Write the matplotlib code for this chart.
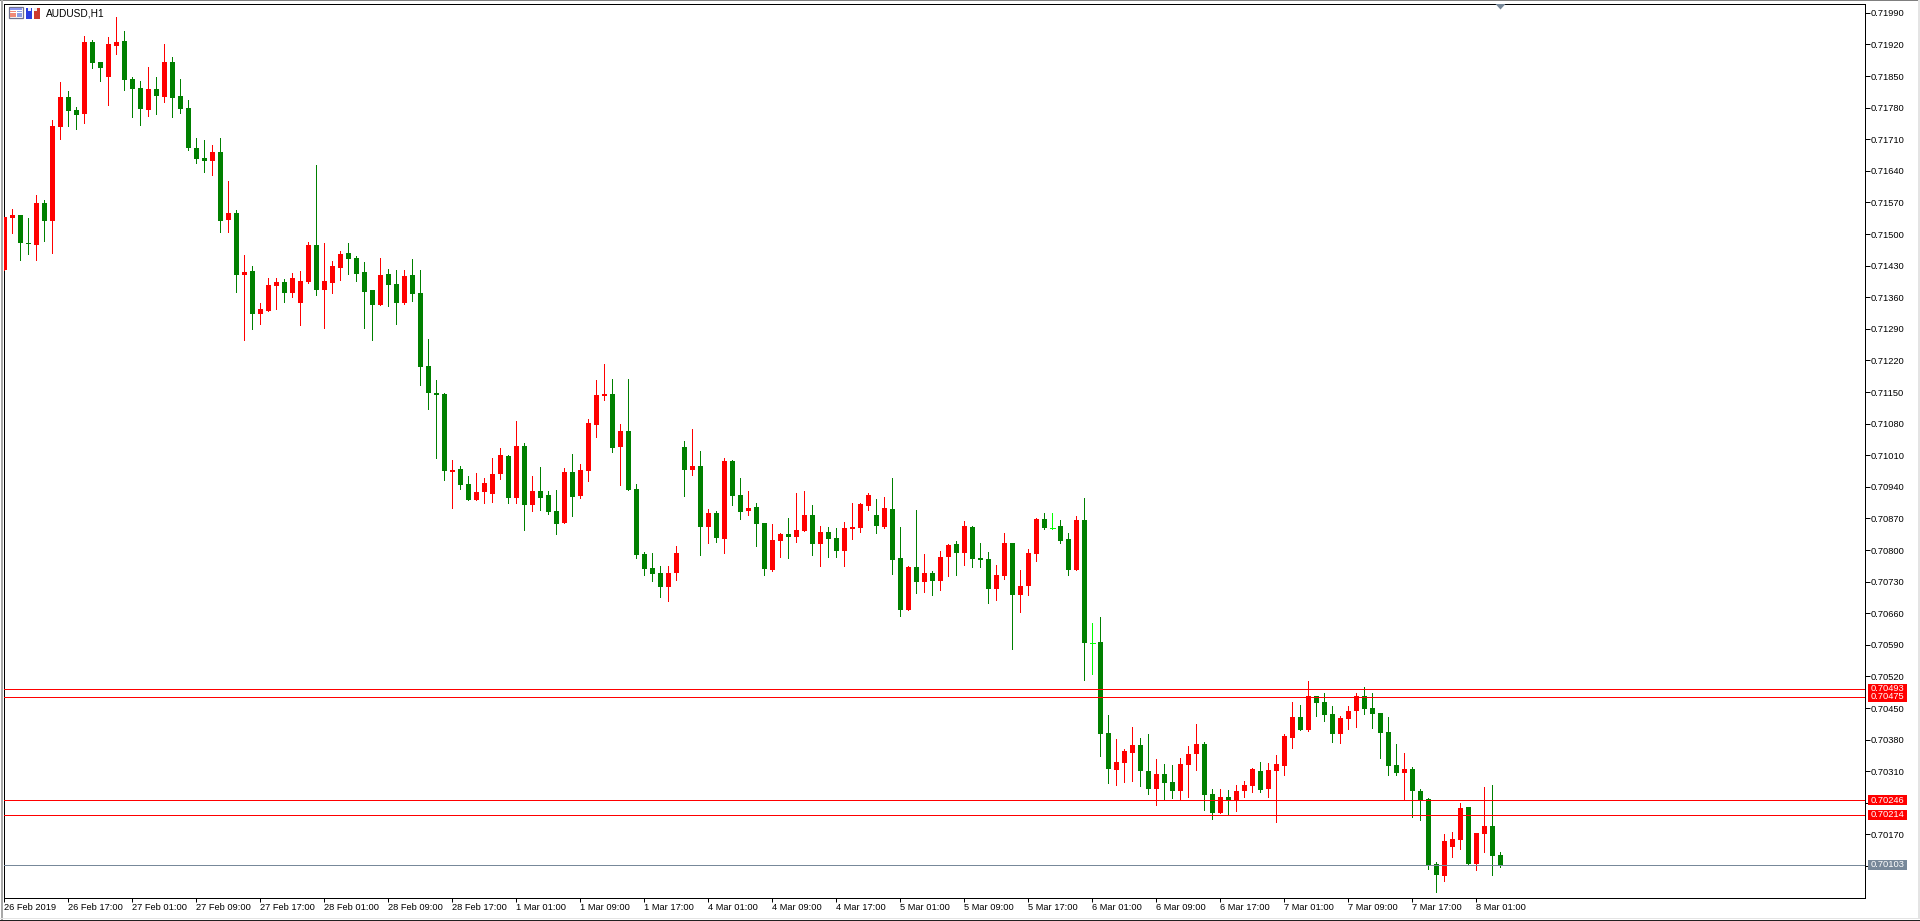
import matplotlib
matplotlib.use("Agg")
import matplotlib.pyplot as plt
from matplotlib.patches import Rectangle, Polygon
from matplotlib.transforms import blended_transform_factory

# AUDUSD H1 candles, prices in points (1e-5)
opens = [
    71421,71535,71542,71480,71475,71568,71528,71737,71803,71774,
    71765,71925,71881,71847,71916,71927,71843,71823,71774,71821,
    71803,71881,71805,71779,71690,71668,71661,71681,71531,71546,
    71409,71418,71322,71329,71384,71393,71369,71347,71393,71475,
    71376,71391,71424,71458,71446,71415,71376,71342,71411,71389,
    71347,71409,71369,71207,71148,71145,70973,70979,70946,70911,
    70928,70924,70968,71008,70915,71030,70899,70930,70922,70886,
    70860,70973,70919,70975,71077,71141,71145,71028,71063,70935,
    70791,70760,70749,70718,70749,71028,70977,70986,70851,70882,
    70824,70997,70922,70886,70895,70860,70755,70820,70835,70829,
    70842,70877,70813,70840,70826,70798,70846,70849,70897,70877,
    70851,70891,70782,70667,70762,70729,70749,70731,70784,70813,
    70793,70851,70782,70780,70713,70742,70815,70700,70720,70791,
    70868,70849,70853,70824,70755,70866,70595,70596,70394,70312,
    70328,70350,70368,70310,70270,70304,70286,70266,70324,70348,
    70370,70259,70217,70253,70246,70266,70277,70310,70270,70310,
    70321,70383,70430,70401,70476,70463,70436,70392,70426,70443,
    70476,70450,70439,70397,70324,70306,70315,70266,70248,70104,
    70078,70142,70157,70231,70104,70171,70188,70124,
]
closes = [
    71537,71542,71480,71477,71568,71528,71739,71803,71772,71763,
    71925,71878,71867,71920,71925,71841,71821,71776,71821,71805,
    71881,71801,71776,71690,71666,71661,71681,71528,71546,71409,
    71415,71322,71333,71387,71393,71369,71402,71395,71475,71376,
    71395,71429,71455,71444,71411,71371,71342,71409,71387,71347,
    71407,71367,71205,71148,71143,70975,70977,70944,70911,70928,
    70948,70968,71010,70915,71030,70899,70930,70915,70884,70857,
    70973,70917,70977,71081,71143,71145,71026,71063,70933,70789,
    70758,70747,70718,70749,70793,70977,70986,70851,70882,70826,
    70997,70919,70884,70893,70857,70758,70822,70835,70829,70844,
    70877,70813,70840,70824,70798,70849,70851,70902,70922,70853,
    70893,70778,70667,70762,70729,70749,70731,70784,70811,70793,
    70853,70780,70778,70713,70744,70815,70700,70720,70793,70868,
    70849,70849,70820,70755,70866,70594,70595,70392,70315,70330,
    70355,70368,70310,70270,70304,70284,70266,70326,70348,70370,
    70257,70217,70253,70246,70266,70279,70315,70268,70312,70326,
    70388,70430,70401,70476,70461,70434,70392,70428,70443,70476,
    70448,70436,70394,70321,70306,70315,70266,70246,70102,70080,
    70155,70160,70228,70104,70173,70188,70122,70103,
]
highs = [
    71537,71555,71542,71535,71586,71575,71752,71836,71816,71781,
    71938,71929,71881,71936,71980,71949,71847,71839,71870,71847,
    71920,71892,71843,71796,71712,71708,71697,71712,71617,71553,
    71453,71429,71347,71402,71402,71400,71413,71418,71482,71652,
    71480,71440,71462,71480,71451,71438,71376,71446,71422,71420,
    71420,71444,71420,71267,71176,71148,70999,70986,70964,70970,
    70959,71004,71026,71010,71086,71037,70964,70984,70930,70933,
    70981,71012,70990,71090,71176,71212,71179,71079,71179,70946,
    70795,70793,70764,70764,70809,71041,71068,71019,70891,70886,
    71004,70999,70959,70930,70904,70860,70857,70837,70871,70926,
    70930,70899,70853,70851,70849,70862,70904,70904,70926,70913,
    70917,70959,70851,70764,70888,70791,70753,70798,70813,70820,
    70864,70853,70815,70795,70767,70837,70815,70755,70802,70871,
    70882,70882,70866,70837,70875,70915,70638,70651,70434,70381,
    70359,70408,70383,70392,70337,70326,70324,70339,70366,70414,
    70375,70270,70270,70268,70279,70288,70317,70330,70328,70346,
    70392,70463,70457,70510,70476,70483,70454,70432,70454,70483,
    70496,70483,70439,70430,70370,70350,70319,70270,70250,70109,
    70171,70175,70239,70231,70173,70275,70279,70131,
]
lows = [
    71421,71502,71442,71455,71442,71484,71458,71710,71739,71732,
    71745,71867,71839,71785,71898,71819,71759,71741,71761,71765,
    71792,71759,71768,71686,71657,71637,71630,71504,71504,71371,
    71265,71289,71300,71329,71333,71349,71360,71298,71391,71364,
    71291,71369,71398,71411,71395,71291,71265,71342,71340,71300,
    71345,71351,71165,71112,71004,70955,70893,70935,70911,70911,
    70904,70906,70957,70904,70904,70844,70886,70888,70880,70835,
    70860,70875,70915,70953,71050,71132,71017,70944,70933,70782,
    70744,70731,70696,70687,70733,70919,70966,70789,70815,70818,
    70793,70899,70868,70877,70809,70744,70753,70784,70782,70818,
    70842,70789,70764,70784,70784,70764,70824,70840,70888,70837,
    70849,70747,70654,70667,70705,70707,70700,70711,70742,70744,
    70767,70762,70762,70682,70689,70736,70581,70662,70700,70775,
    70846,70846,70815,70744,70755,70512,70525,70343,70284,70279,
    70286,70288,70277,70259,70235,70246,70251,70248,70253,70312,
    70224,70204,70217,70215,70222,70253,70264,70264,70253,70197,
    70301,70361,70401,70399,70432,70421,70375,70372,70403,70408,
    70436,70406,70339,70301,70301,70246,70208,70202,70093,70042,
    70067,70120,70138,70102,70091,70131,70080,70098,
]

date_labels = [
    "26 Feb 2019", "26 Feb 17:00", "27 Feb 01:00", "27 Feb 09:00", "27 Feb 17:00",
    "28 Feb 01:00", "28 Feb 09:00", "28 Feb 17:00", "1 Mar 01:00", "1 Mar 09:00",
    "1 Mar 17:00", "4 Mar 01:00", "4 Mar 09:00", "4 Mar 17:00", "5 Mar 01:00",
    "5 Mar 09:00", "5 Mar 17:00", "6 Mar 01:00", "6 Mar 09:00", "6 Mar 17:00",
    "7 Mar 01:00", "7 Mar 09:00", "7 Mar 17:00", "8 Mar 01:00",
]
price_ticks = [
    71990, 71920, 71850, 71780, 71710, 71640, 71570, 71500, 71430, 71360,
    71290, 71220, 71150, 71080, 71010, 70940, 70870, 70800, 70730, 70660,
    70590, 70520, 70450, 70380, 70310, 70240, 70170, 70100,
]
hidden_ticks = [70240, 70100]      # sit underneath the level tags
level_lines = [70493, 70475, 70246, 70214]
bid_line = 70103

RED, GREEN, LIME, SLATE = "#FF0000", "#008000", "#00FF00", "#778899"
FONT = "Liberation Sans"
FS = 6.65
W, H = 1920, 921
LEFT, RIGHT, TOP, BOTTOM = 4.3, 1865.3, 3.7, 897.7
PX = 2.2152     # points per screen row
BAR_STEP = 8
ONE_PX = 0.72   # line width of a single pixel at 100 dpi

fig = plt.figure(figsize=(W / 100, H / 100), dpi=100, facecolor="white")
ax = fig.add_axes([LEFT / W, 1 - BOTTOM / H, (RIGHT - LEFT) / W, (BOTTOM - TOP) / H])
ax.set_xlim(0, (RIGHT - LEFT) / BAR_STEP)
ax.set_ylim(71990 - (BOTTOM - 12.87) * PX, 71990 + (12.87 - TOP) * PX)

# candles
for i, (o, h, l, c) in enumerate(zip(opens, highs, lows, closes)):
    col = RED if c > o else GREEN if c < o else LIME
    ax.vlines(i, l, h, color=col, lw=ONE_PX, antialiased=False, zorder=3)
    if c == o:
        ax.hlines(o, i - 0.31, i + 0.31, color=col, lw=ONE_PX, antialiased=False, zorder=3)
    else:
        ax.bar(i, abs(c - o), bottom=min(o, c), width=0.625, color=col,
               linewidth=0, antialiased=False, zorder=3)

# horizontal levels and the bid line
for v in level_lines:
    ax.axhline(v, color=RED, lw=ONE_PX, antialiased=False, zorder=4)
ax.axhline(bid_line, color=SLATE, lw=ONE_PX, antialiased=False, zorder=4)

# axes furniture
for s in ax.spines.values():
    s.set_linewidth(ONE_PX)
    s.set_color("black")
ax.yaxis.tick_right()
ax.set_yticks(price_ticks)
ax.set_yticklabels([
    "" if v in hidden_ticks else f"{v / 1e5:.5f}" for v in price_ticks
], fontfamily=FONT, fontsize=FS)
ax.tick_params(axis="y", length=3.6, width=ONE_PX, pad=0.3, colors="black")
ax.set_xticks([BAR_STEP * k for k in range(len(date_labels))])
ax.set_xticklabels(date_labels, fontfamily=FONT, fontsize=FS, ha="left")
ax.tick_params(axis="x", length=2.9, width=ONE_PX, pad=0.8, colors="black")

# price tags beyond the right axis
tag_tf = blended_transform_factory(ax.transAxes, ax.transData)
span = RIGHT - LEFT
for v, col in [(l, RED) for l in level_lines] + [(bid_line, SLATE)]:
    ax.add_patch(Rectangle((1 + 2.7 / span, v - 5 * PX), 39 / span, 10 * PX,
                           facecolor=col, edgecolor="none", transform=tag_tf,
                           clip_on=False, zorder=6))
    ax.text(1 + 5.4 / span, v, f"{v / 1e5:.5f}", color="white", fontfamily=FONT,
            fontsize=FS, va="center", ha="left", transform=tag_tf, clip_on=False, zorder=7)

# overlay in screen pixels for the window chrome, symbol caption and icons
deco = fig.add_axes([0, 0, 1, 1], facecolor="none")
deco.set_xlim(0, W)
deco.set_ylim(H, 0)
deco.axis("off")
deco.text(45.5, 13.5, "AUDUSD,H1", fontfamily=FONT, fontsize=7.3, va="center", ha="left", color="black")

def box(x, y, w, h, fc, ec="none", lw=0):
    deco.add_patch(Rectangle((x, y), w, h, facecolor=fc, edgecolor=ec, linewidth=lw))

box(0, 0, W, 1.5, "#7f7f7f")
box(1, 0, 2, H, "#a8a8a8")
box(0, 917.5, W, 1.5, "#e4e4e4")
box(0, 920, W, 1, "#202020")
box(1918, 0, 2, 919, "#e4e4e4")

# chart-window icon
box(8.5, 7.5, 14, 11, "#ffffff", "#70708c", 0.9)
box(9.5, 8, 12, 2, "#8a94f0")
for y in (10.7, 13, 15.3):
    box(10, y, 5.5, 1.6, "#f08a78")
    box(16.5, y, 5, 1.6, "#8c9ce4")
# template icon
box(25.5, 8, 6.5, 11, "#2a3fe0")
box(27.5, 8, 3, 3.5, "#f0f0f0")
box(33.5, 8.5, 6.5, 10.5, "#cc3a30")
box(33.5, 8, 3.5, 3, "#f0f0f0")

# chart shift marker on the top edge
deco.add_patch(Polygon([(1495.5, 4), (1505.5, 4), (1500.5, 9.5)], closed=True,
                       facecolor=SLATE, edgecolor="none"))

fig.savefig("out.png", dpi=100, facecolor="white")
